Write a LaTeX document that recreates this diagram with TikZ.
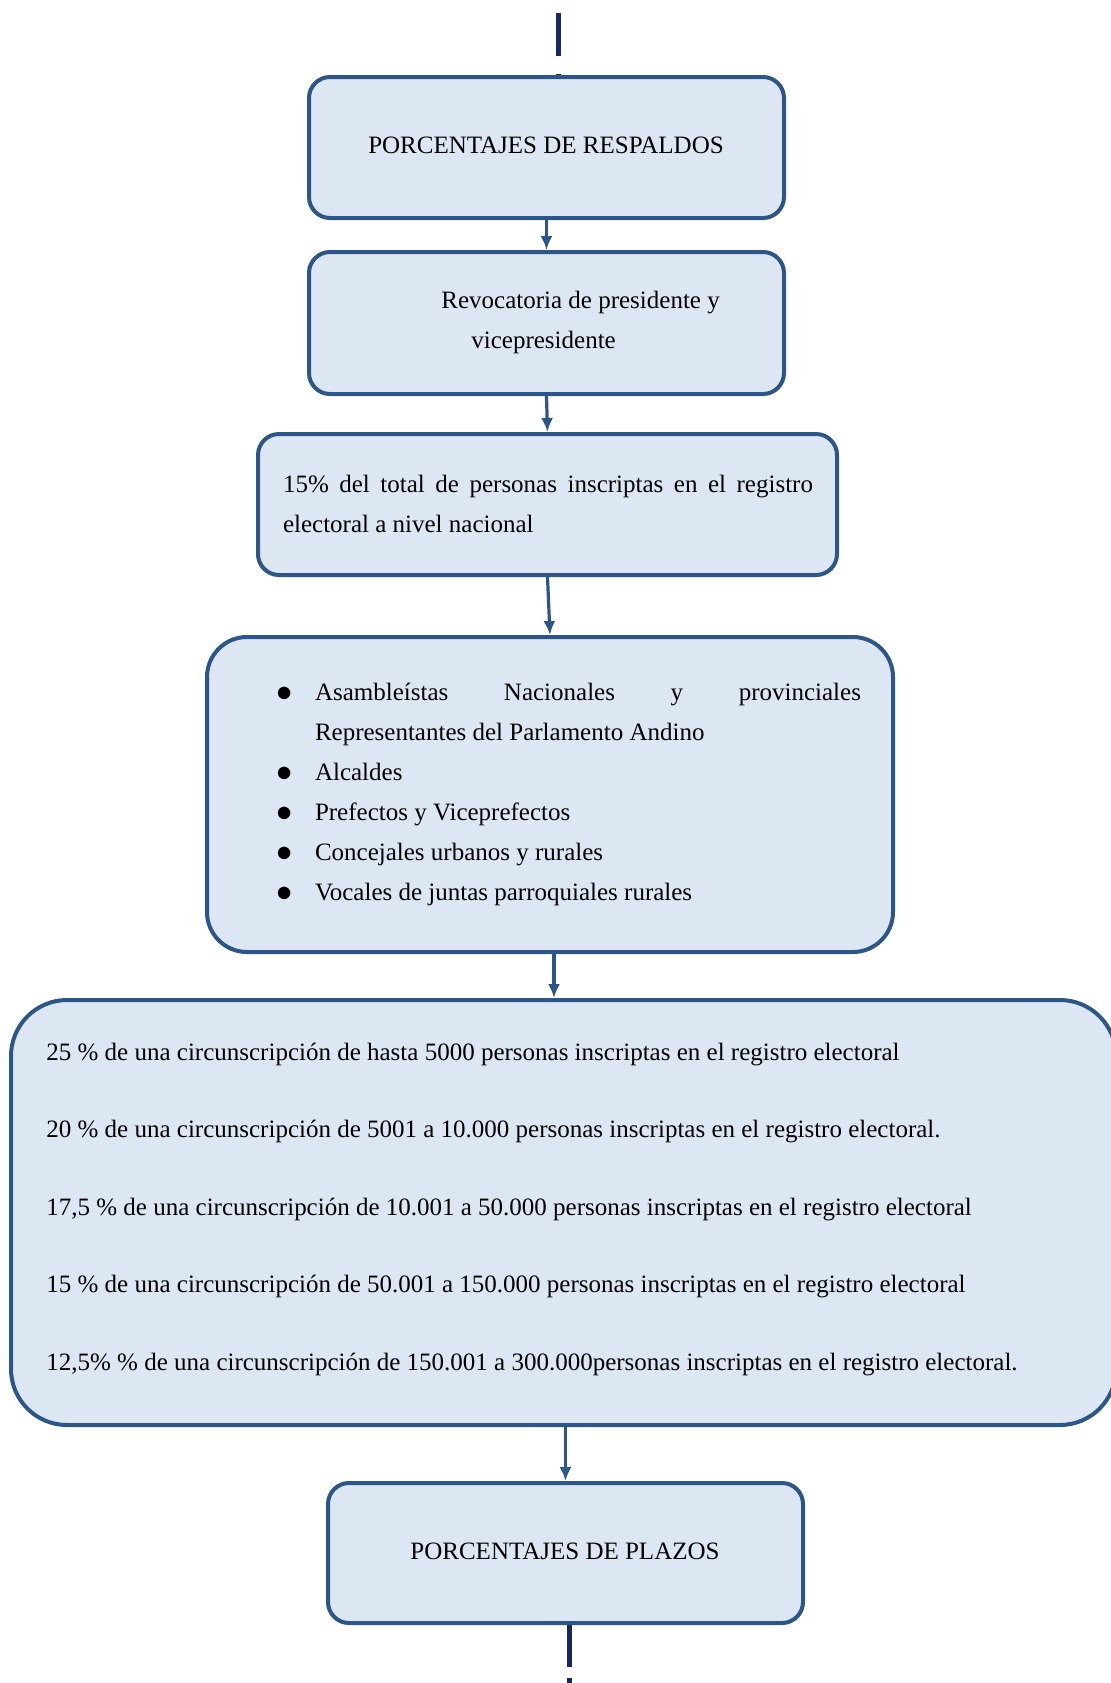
\documentclass[tikz,border=0pt]{standalone}
\usepackage{fontspec}
\setmainfont{Liberation Serif}
\usetikzlibrary{arrows.meta}

\definecolor{boxfill}{RGB}{221,231,244}
\definecolor{boxline}{RGB}{43,86,135}
\definecolor{navyline}{RGB}{24,40,102}
\newcommand{\blt}{\makebox[19.5pt][l]{\raisebox{-0.6pt}{\scalebox{1.35}{$\bullet$}}}}

\begin{document}
\begin{tikzpicture}[x=0.5pt, y=-0.5pt, box/.style={shape=rectangle, draw=boxline, fill=boxfill, line width=2pt, rounded corners=10.5pt, inner sep=0pt}, txt/.style={anchor=center, inner sep=0pt, font=\fontsize{12.5}{20}\selectfont}, arr/.style={-{Latex[length=7pt,width=6pt]}, draw=boxline, line width=1.6pt}, lead/.style={draw=navyline, line width=2.5pt}]	% Paths, nodes and wires:
			\useasboundingbox (0,0) rectangle (1110,1683);
			\node[box, minimum width=237.5pt, minimum height=70.5pt] (respaldos) at (546.5,147.5){} node[txt] (respaldosT) at (546,145){PORCENTAJES DE RESPALDOS};
			\node[box, minimum width=237.5pt, minimum height=71pt] (revocatoria) at (546.5,323){} node[txt, anchor=west, align=left] (revocatoriaT) at (441,322){Revocatoria de presidente y\\\hspace*{15pt}vicepresidente};
			\node[box, minimum width=289.5pt, minimum height=70.5pt] (total) at (547.5,504.5){} node[txt, align=justify, text width=265pt] (totalT) at (548,503.5){15\% del total de personas inscriptas en el registro\linebreak electoral a nivel nacional};
			\node[box, minimum width=343pt, minimum height=157.5pt, rounded corners=20pt] (cargos) at (550,794.5){} node[txt, align=justify, text width=292.5pt] (cargosT) at (568.5,794.5){%
				\noindent\hangindent=19.5pt\hangafter=1\blt Asambleístas Nacionales y provinciales\linebreak Representantes del Parlamento Andino\par
				\noindent\blt Alcaldes\par
				\noindent\blt Prefectos y Viceprefectos\par
				\noindent\blt Concejales urbanos y rurales\par
				\noindent\blt Vocales de juntas parroquiales rurales};
			\node[box, minimum width=552.5pt, minimum height=212.5pt, rounded corners=28pt] (rangos) at (563.5,1212.5){} node[txt, anchor=west, align=left, font=\fontsize{12.5}{38.75}\selectfont] (rangosT) at (46,1209){25 \% de una circunscripción de hasta 5000 personas inscriptas en el registro electoral\\20 \% de una circunscripción de 5001 a 10.000 personas inscriptas en el registro electoral.\\17,5 \% de una circunscripción de 10.001 a 50.000 personas inscriptas en el registro electoral\\15 \% de una circunscripción de 50.001 a 150.000 personas inscriptas en el registro electoral\\12,5\% \% de una circunscripción de 150.001 a 300.000personas inscriptas en el registro electoral.};
			\node[box, minimum width=237.5pt, minimum height=70pt] (plazos) at (565.5,1553){} node[txt] (plazosT) at (565,1551){PORCENTAJES DE PLAZOS};
			\coordinate (topA) at (558,13);
			\coordinate (topB) at (558,56);
			\coordinate (topC) at (558,74);
			\coordinate (botA) at (569,1667);
			\coordinate (botB) at (569,1678);
			\coordinate (botC) at (569,1683);
			\draw[lead] (topA) -- (topB) (topC) -- (topC |- respaldos.north);
			\draw[arr] (respaldos) -- (revocatoria);
			\draw[arr] (revocatoria.south) -- (total.north);
			\draw[arr] (total.south) -- (cargos.north);
			\draw[arr] ([xshift=2pt]cargos.south) -- ([xshift=2pt]cargos.south |- rangos.north);
			\draw[arr] (plazos.north |- rangos.south) -- (plazos.north);
			\draw[lead] (plazos.south -| botA) -- (botA) (botB) -- (botC);
		\end{tikzpicture}
\end{document}
